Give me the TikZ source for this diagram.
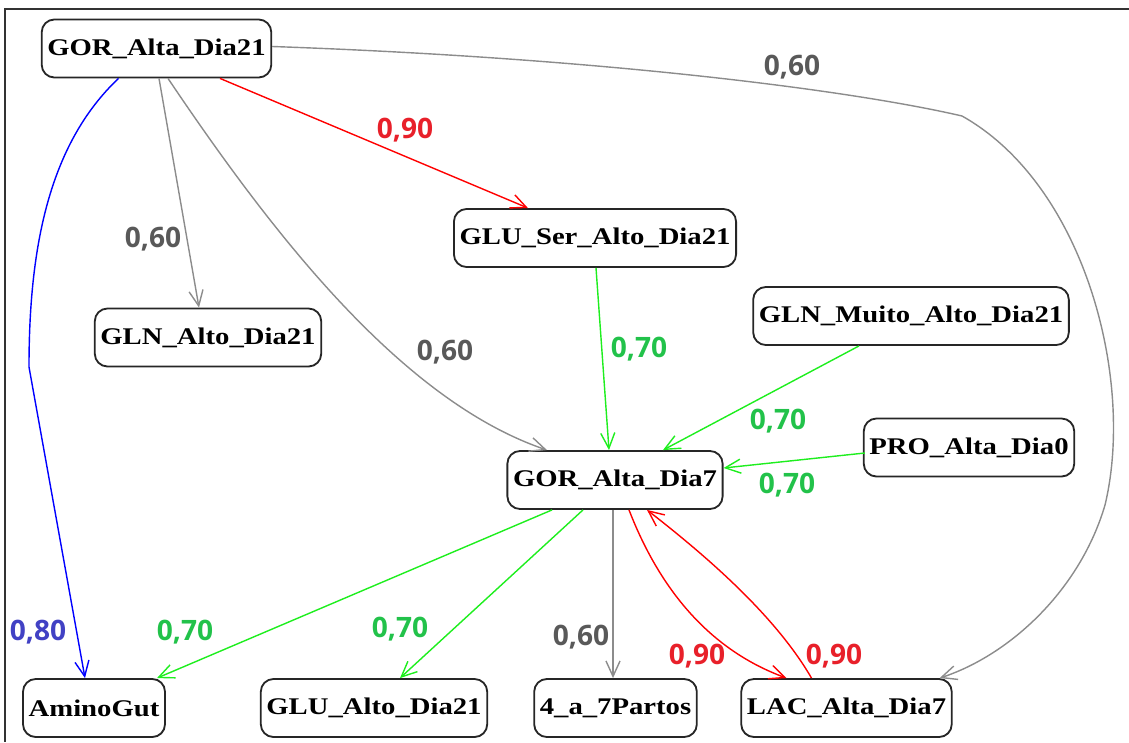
\documentclass[tikz,border=0pt]{standalone}
\usepackage{fontspec}
\usetikzlibrary{arrows.meta,calc}
\newfontfamily\varfont[FakeStretch=1.2]{Liberation Serif}
\newfontfamily\wtfont{Open Sans}
\definecolor{edgegray}{HTML}{8C8C8C}
\definecolor{edgegreen}{HTML}{1EEE1E}
\definecolor{wtgray}{HTML}{595959}
\definecolor{wtred}{HTML}{E8202A}
\definecolor{wtgreen}{HTML}{22C24A}
\definecolor{wtblue}{HTML}{4141C4}
\tikzset{>={Straight Barb[length=11pt,width=10pt]}}
\tikzset{
  var/.style={draw=black!85,line width=1.3pt,rounded corners=9pt,minimum height=1.45cm,inner xsep=4pt,font=\varfont\fontsize{17}{20}\selectfont\bfseries},
  wt/.style={font=\wtfont\fontsize{20}{24}\selectfont\bfseries,inner sep=0pt},
}
\begin{document}
\begin{tikzpicture}[x=0.025cm,y=-0.025cm]
    \useasboundingbox (0,0) rectangle (1129,742);
    \draw[line width=1.2pt,color=black!80] (1129,9) -- (5,9) -- (5,742);

    \node [var] (g21) at (156.5,48.5) {GOR\_Alta\_Dia21};
    \node [var] (glus) at (595,238) {GLU\_Ser\_Alto\_Dia21};
    \node [var] (glna) at (208,337.5) {GLN\_Alto\_Dia21};
    \node [var] (glnm) at (911,316) {GLN\_Muito\_Alto\_Dia21};
    \node [var] (pro) at (969,447.5) {PRO\_Alta\_Dia0};
    \node [var] (g7) at (615,480) {GOR\_Alta\_Dia7};
    \node [var] (amino) at (94,708) {AminoGut};
    \node [var] (glua) at (374,708) {GLU\_Alto\_Dia21};
    \node [var] (partos) at (615.5,708) {4\_a\_7Partos};
    \node [var] (lac) at (846.5,708) {LAC\_Alta\_Dia7};

    \begin{scope}[line width=1pt]
    \draw[->,color=blue] ($(g21.south)+(-38,0)$) .. controls (48,145) and (29,250) .. (29,367) -- ($(amino.north)+(-9,0)$);
    \draw[->,color=edgegray] ($(g21.south)+(2.5,0)$) -- ($(glna.north)+(-9,0)$);
    \draw[->,color=edgegray] ($(g21.south)+(11.5,0)$) .. controls (270,230) and (400,400) .. ($(g7.north)+(-68,0)$);
    \draw[->,color=red] ($(g21.south)+(63.5,0)$) -- ($(glus.north)+(-67,0)$);
    \draw[->,color=edgegray] ($(g21.east)+(0,-2)$) .. controls (600,58) and (850,90) .. (962,116) .. controls (1085,185) and (1135,380) .. (1105,505) .. controls (1080,590) and (1010,655) .. ($(lac.north east)+(-13,0)$);
    \draw[->,color=edgegreen] ($(glus.south)+(1,0)$) -- ($(g7.north)+(-6,0)$);
    \draw[->,color=edgegreen] ($(glnm.south)+(-52,0)$) -- ($(g7.north)+(48,0)$);
    \draw[->,color=edgegreen] ($(pro.west)+(2,5.5)$) -- ($(g7.east)+(0,-12)$);
    \draw[->,color=edgegreen] ($(g7.south)+(-63,0)$) -- ($(amino.north)+(63,0)$);
    \draw[->,color=edgegreen] ($(g7.south)+(-32,0)$) -- ($(glua.north)+(26,0)$);
    \draw[->,color=edgegray] ($(g7.south)+(-2,0)$) -- ($(partos.north)+(-2.5,0)$);
    \draw[->,color=red] ($(g7.south)+(14,0)$) .. controls (660,590) and (710,650) .. ($(lac.north)+(-60,0)$);
    \draw[->,color=red] ($(lac.north)+(-35,0)$) .. controls (775,615) and (705,555) .. ($(g7.south)+(32,0)$);
    \end{scope}

    \node [wt,text=wtblue] (w_amino) at (38,632) {0,80};
    \node [wt,text=wtgray] (w_glna) at (153,239) {0,60};
    \node [wt,text=wtgray] (w_g21g7) at (445,352) {0,60};
    \node [wt,text=wtred] (w_glus) at (405,130) {0,90};
    \node [wt,text=wtgray] (w_lac21) at (792,67) {0,60};
    \node [wt,text=wtgreen] (w_glusg7) at (639,349) {0,70};
    \node [wt,text=wtgreen] (w_glnm) at (778,421) {0,70};
    \node [wt,text=wtgreen] (w_pro) at (787,485) {0,70};
    \node [wt,text=wtgreen] (w_g7amino) at (185,632) {0,70};
    \node [wt,text=wtgreen] (w_glua) at (400,629) {0,70};
    \node [wt,text=wtgray] (w_partos) at (581,637) {0,60};
    \node [wt,text=wtred] (w_g7lac) at (697,656) {0,90};
    \node [wt,text=wtred] (w_lacg7) at (834,656) {0,90};

    \end{tikzpicture}
\end{document}
